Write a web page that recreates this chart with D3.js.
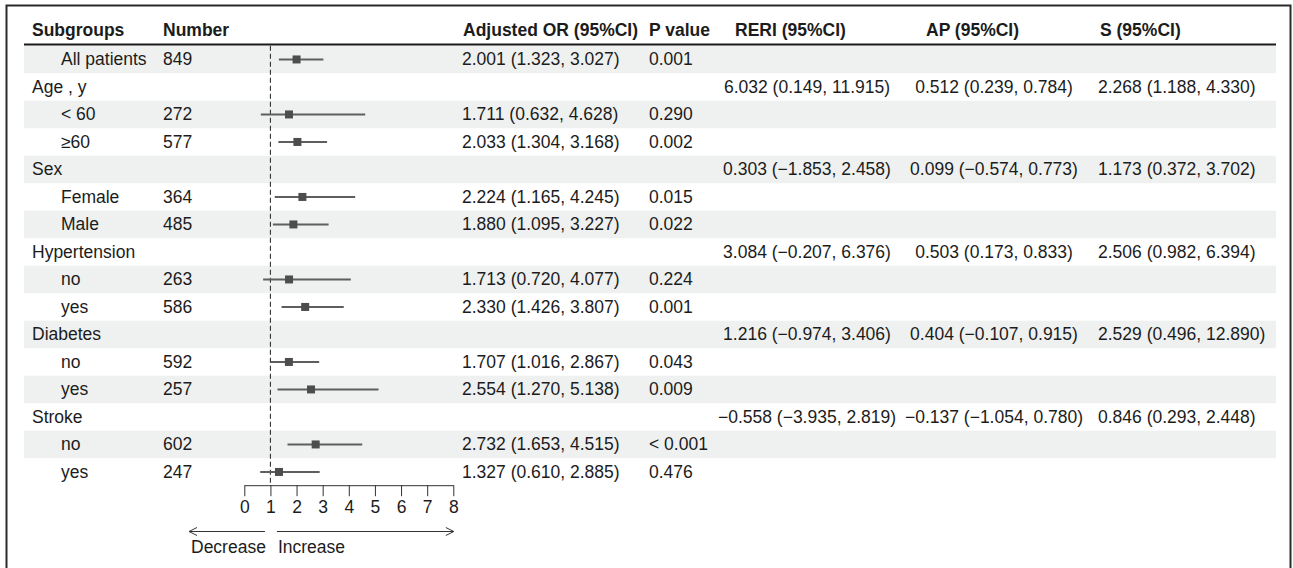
<!DOCTYPE html>
<html>
<head>
<meta charset="utf-8">
<script src="https://cdn.jsdelivr.net/npm/d3@7"></script>
<style>
  html, body { margin: 0; padding: 0; background: #fff; }
  svg { display: block; font-family: "Liberation Sans", Arial, Helvetica, sans-serif; }
</style>
</head>
<body>
<svg id="chart" width="1293" height="568"></svg>
<script>
// Subgroup table: one entry per row
const subgroups = ["All patients", "Age , y", "< 60", "\u226560", "Sex", "Female", "Male",
  "Hypertension", "no", "yes", "Diabetes", "no", "yes", "Stroke", "no", "yes"];
const indented = [true, false, true, true, false, true, true, false, true, true, false, true, true, false, true, true];
const numbers = ["849", "", "272", "577", "", "364", "485", "", "263", "586", "", "592", "257", "", "602", "247"];

// Adjusted odds ratios with 95% CI
const orEst = [2.001, null, 1.711, 2.033, null, 2.224, 1.880, null, 1.713, 2.330, null, 1.707, 2.554, null, 2.732, 1.327];
const orLow = [1.323, null, 0.632, 1.304, null, 1.165, 1.095, null, 0.720, 1.426, null, 1.016, 1.270, null, 1.653, 0.610];
const orHigh = [3.027, null, 4.628, 3.168, null, 4.245, 3.227, null, 4.077, 3.807, null, 2.867, 5.138, null, 4.515, 2.885];
const pValues = ["0.001", "", "0.290", "0.002", "", "0.015", "0.022", "", "0.224", "0.001", "", "0.043", "0.009", "", "< 0.001", "0.476"];

// Additive interaction measures (on the subgroup heading rows)
const reriEst = [null, 6.032, null, null, 0.303, null, null, 3.084, null, null, 1.216, null, null, -0.558, null, null];
const reriLow = [null, 0.149, null, null, -1.853, null, null, -0.207, null, null, -0.974, null, null, -3.935, null, null];
const reriHigh = [null, 11.915, null, null, 2.458, null, null, 6.376, null, null, 3.406, null, null, 2.819, null, null];
const apEst = [null, 0.512, null, null, 0.099, null, null, 0.503, null, null, 0.404, null, null, -0.137, null, null];
const apLow = [null, 0.239, null, null, -0.574, null, null, 0.173, null, null, -0.107, null, null, -1.054, null, null];
const apHigh = [null, 0.784, null, null, 0.773, null, null, 0.833, null, null, 0.915, null, null, 0.780, null, null];
const sEst = [null, 2.268, null, null, 1.173, null, null, 2.506, null, null, 2.529, null, null, 0.846, null, null];
const sLow = [null, 1.188, null, null, 0.372, null, null, 0.982, null, null, 0.496, null, null, 0.293, null, null];
const sHigh = [null, 4.330, null, null, 3.702, null, null, 6.394, null, null, 12.890, null, null, 2.448, null, null];

const headers = ["Subgroups", "Number", "Adjusted OR (95%CI)", "P value", "RERI (95%CI)", "AP (95%CI)", "S (95%CI)"];
const axisTicks = [0, 1, 2, 3, 4, 5, 6, 7, 8];
const refValue = 1;
const arrowLabels = ["Decrease", "Increase"];

// ---- layout ----
const W = 1293, H = 568;
const fontSize = 17.5;
const textColor = "#1c1c1c";
const tableLeft = 24, tableRight = 1276;
const headerBaseline = 36, headerRuleY = 44.5;
const rowTop = 45.7, rowH = 27.5;
const headerX = [32, 163, 463, 649, 735, 926, 1100];
const colX = { sub: 32, subIndent: 61, num: 163, or: 462, p: 649, reri: 807, ap: 994, s: 1098 };

const fmt = d3.format(".3f");
const ciText = (e, l, h) => `${fmt(e)} (${fmt(l)}, ${fmt(h)})`;

const svg = d3.select("#chart");
svg.append("rect").attr("width", W).attr("height", H).attr("fill", "#fff");

const y = d3.scaleBand().domain(d3.range(subgroups.length))
  .range([rowTop, rowTop + rowH * subgroups.length]).paddingInner(0).paddingOuter(0);
const x = d3.scaleLinear().domain([0, 8]).range([244.3, 453.3]);

// striped row backgrounds
svg.append("g").selectAll("rect")
  .data(d3.range(subgroups.length).filter(i => i % 2 === 0))
  .join("rect")
  .attr("x", tableLeft).attr("width", tableRight - tableLeft)
  .attr("y", i => y(i)).attr("height", y.bandwidth())
  .attr("fill", "#eff1f0");

// outer frame
svg.append("rect")
  .attr("x", 6.5).attr("y", 5.5).attr("width", 1284).attr("height", 600)
  .attr("fill", "none").attr("stroke", "#2b2b2b").attr("stroke-width", 2);

// header
svg.append("g").selectAll("text").data(headers).join("text")
  .attr("x", (d, i) => headerX[i]).attr("y", headerBaseline)
  .attr("font-size", fontSize).attr("font-weight", "bold").attr("fill", textColor)
  .text(d => d);
svg.append("line")
  .attr("x1", tableLeft).attr("x2", tableRight)
  .attr("y1", headerRuleY).attr("y2", headerRuleY)
  .attr("stroke", "#1a1a1a").attr("stroke-width", 2);

// body text
const rows = svg.append("g").attr("font-size", fontSize).attr("fill", textColor);
const baseY = i => y(i) + y.bandwidth() / 2 + 6;
const addCol = (values, xPos, anchor = "start") => rows.append("g").selectAll("text")
  .data(values.map((v, i) => ({ v, i })).filter(d => d.v !== "" && d.v !== null))
  .join("text")
  .attr("x", xPos).attr("y", d => baseY(d.i)).attr("text-anchor", anchor).text(d => d.v);

rows.append("g").selectAll("text").data(subgroups).join("text")
  .attr("x", (d, i) => indented[i] ? colX.subIndent : colX.sub)
  .attr("y", (d, i) => baseY(i)).text(d => d);
addCol(numbers, colX.num);
addCol(orEst.map((e, i) => e === null ? "" : ciText(e, orLow[i], orHigh[i])), colX.or);
addCol(pValues, colX.p);
addCol(reriEst.map((e, i) => e === null ? "" : ciText(e, reriLow[i], reriHigh[i])), colX.reri, "middle");
addCol(apEst.map((e, i) => e === null ? "" : ciText(e, apLow[i], apHigh[i])), colX.ap, "middle");
addCol(sEst.map((e, i) => e === null ? "" : ciText(e, sLow[i], sHigh[i])), colX.s);

// reference line
const tableBottom = rowTop + rowH * subgroups.length;
svg.append("line")
  .attr("x1", x(refValue)).attr("x2", x(refValue))
  .attr("y1", rowTop).attr("y2", tableBottom)
  .attr("stroke", "#333").attr("stroke-width", 1.1).attr("stroke-dasharray", "5,3");

// confidence intervals and point estimates
const est = orEst.map((e, i) => ({ e, lo: orLow[i], hi: orHigh[i], i })).filter(d => d.e !== null);
const cy = d => y(d.i) + y.bandwidth() / 2;
svg.append("g").selectAll("line").data(est).join("line")
  .attr("x1", d => x(d.lo)).attr("x2", d => x(d.hi))
  .attr("y1", cy).attr("y2", cy)
  .attr("stroke", "#5e5e5e").attr("stroke-width", 2);
const box = 8;
svg.append("g").selectAll("rect").data(est).join("rect")
  .attr("x", d => x(d.e) - box / 2).attr("y", d => cy(d) - box / 2)
  .attr("width", box).attr("height", box)
  .attr("fill", "#4d4d4d");

// x axis
const axisG = svg.append("g").attr("transform", `translate(0,${tableBottom - 0.5})`)
  .call(d3.axisBottom(x).tickValues(axisTicks).tickFormat(d3.format("d"))
    .tickSize(11).tickSizeOuter(0).tickPadding(4));
axisG.select(".domain").attr("stroke", "#333");
axisG.selectAll(".tick line").attr("stroke", "#333");
axisG.selectAll(".tick text").attr("font-size", fontSize).attr("fill", textColor)
  .attr("font-family", "Liberation Sans, Arial, sans-serif");

// direction arrows
const arrowY = 531.5;
const arrowG = svg.append("g").attr("fill", "none").attr("stroke", "#333").attr("stroke-width", 1);
const leftStart = x(refValue) - 5.5, leftEnd = 189;
const rightStart = x(refValue) + 6.5, rightEnd = x(8) + 0.5;
arrowG.append("line").attr("x1", leftStart).attr("x2", leftEnd).attr("y1", arrowY).attr("y2", arrowY);
arrowG.append("polyline").attr("points", `${leftEnd + 8},${arrowY - 4} ${leftEnd},${arrowY} ${leftEnd + 8},${arrowY + 4}`);
arrowG.append("line").attr("x1", rightStart).attr("x2", rightEnd).attr("y1", arrowY).attr("y2", arrowY);
arrowG.append("polyline").attr("points", `${rightEnd - 8},${arrowY - 4} ${rightEnd},${arrowY} ${rightEnd - 8},${arrowY + 4}`);

svg.append("g").attr("font-size", fontSize).attr("fill", textColor)
  .selectAll("text").data(arrowLabels).join("text")
  .attr("x", (d, i) => i === 0 ? leftEnd + 2 : rightStart + 1)
  .attr("y", 553).text(d => d);
</script>
</body>
</html>
